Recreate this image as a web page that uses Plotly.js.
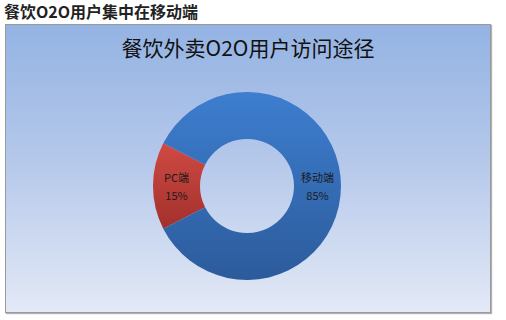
<!DOCTYPE html>
<html>
<head>
<meta charset="utf-8">
<script src="https://cdn.plot.ly/plotly-3.0.1.min.js"></script>
<style>
  html, body { margin: 0; padding: 0; background: #ffffff; }
  #wrap { position: relative; width: 506px; height: 320px; overflow: hidden; }
  #panel {
    position: absolute; left: 5px; top: 24px; width: 484px; height: 287px;
    border: 1px solid #9a9a9a;
    box-shadow: 1px 1px 1px #b0b0b0;
    background: linear-gradient(to bottom, #94b3e3 0%, #b3c7ea 45%, #e3e9f6 100%);
  }
  #chart { position: absolute; left: 0; top: 0; width: 506px; height: 320px; }
</style>
</head>
<body>
<div id="wrap">
  <div id="panel"></div>
  <div id="chart"></div>
</div>
<script>
// Access channels for food-delivery O2O users
const channels = ['PC端', '移动端'];
const shares = [15, 85];
const sliceColors = ['#c13d37', '#3671ba'];
// top / bottom shades used to give each slice a vertical sheen
const sliceShades = [['#d04a43', '#a2302c'], ['#3d7ecf', '#2c5b9b']];

const headline = '餐饮O2O用户集中在移动端';
const chartTitle = '餐饮外卖O2O用户访问途径';

const W = 506, H = 320;
const cx = 247, cy = 186, r = 94;

const data = [{
  type: 'pie',
  labels: channels,
  values: shares,
  sort: false,
  direction: 'clockwise',
  rotation: 243,
  hole: 0.5,
  marker: { colors: sliceColors, line: { width: 0 } },
  texttemplate: '%{label}<br>%{value}%',
  textposition: 'inside',
  insidetextorientation: 'horizontal',
  textfont: { family: '"Noto Sans CJK SC", "Open Sans", sans-serif', size: 11, color: '#1b1b1b' },
  hoverinfo: 'label+percent',
  showlegend: false,
  domain: {
    x: [(cx - r) / W, (cx + r) / W],
    y: [(H - cy - r) / H, (H - cy + r) / H]
  }
}];

const layout = {
  width: W, height: H,
  margin: { l: 0, r: 0, t: 0, b: 0 },
  paper_bgcolor: 'rgba(0,0,0,0)',
  plot_bgcolor: 'rgba(0,0,0,0)',
  title: {
    text: chartTitle,
    x: 248 / W, xanchor: 'center',
    y: (H - 49) / H, yanchor: 'middle',
    font: { family: '"Noto Sans CJK SC", sans-serif', size: 21, color: '#111111' }
  },
  annotations: [{
    text: headline,
    xref: 'paper', yref: 'paper',
    x: 2 / W, xanchor: 'left',
    y: (H - 11) / H, yanchor: 'middle',
    showarrow: false,
    font: { family: '"Noto Sans CJK SC", sans-serif', size: 16, color: '#222222', weight: 'bold' }
  }]
};

Plotly.newPlot('chart', data, layout, { displayModeBar: false, staticPlot: true }).then(gd => {
  // shade each slice with a top-to-bottom gradient
  const svg = gd.querySelector('svg.main-svg');
  const NS = 'http://www.w3.org/2000/svg';
  const defs = document.createElementNS(NS, 'defs');
  svg.insertBefore(defs, svg.firstChild);
  const paths = gd.querySelectorAll('.slice path.surface');
  paths.forEach((p, i) => {
    const shades = sliceShades[i];
    const g = document.createElementNS(NS, 'linearGradient');
    g.setAttribute('id', 'sliceShade' + i);
    g.setAttribute('x1', '0'); g.setAttribute('y1', '0');
    g.setAttribute('x2', '0'); g.setAttribute('y2', '1');
    [[0, shades[0]], [1, shades[1]]].forEach(([o, c]) => {
      const s = document.createElementNS(NS, 'stop');
      s.setAttribute('offset', o);
      s.setAttribute('stop-color', c);
      g.appendChild(s);
    });
    defs.appendChild(g);
    p.style.fill = 'url(#sliceShade' + i + ')';
  });

  // open up the line spacing of the two-line slice labels, keeping them centred
  gd.querySelectorAll('.slice text.slicetext').forEach(t => {
    const before = t.getBBox();
    t.querySelectorAll('tspan.line').forEach(ts => {
      const dy = parseFloat(ts.getAttribute('dy') || '0');
      if (dy) ts.setAttribute('dy', (dy * 1.22) + 'em');
    });
    const after = t.getBBox();
    const shift = (before.y + before.height / 2) - (after.y + after.height / 2);
    const tr = t.getAttribute('transform') || '';
    t.setAttribute('transform', tr + ' translate(0,' + shift + ')');
  });
});
</script>
</body>
</html>
